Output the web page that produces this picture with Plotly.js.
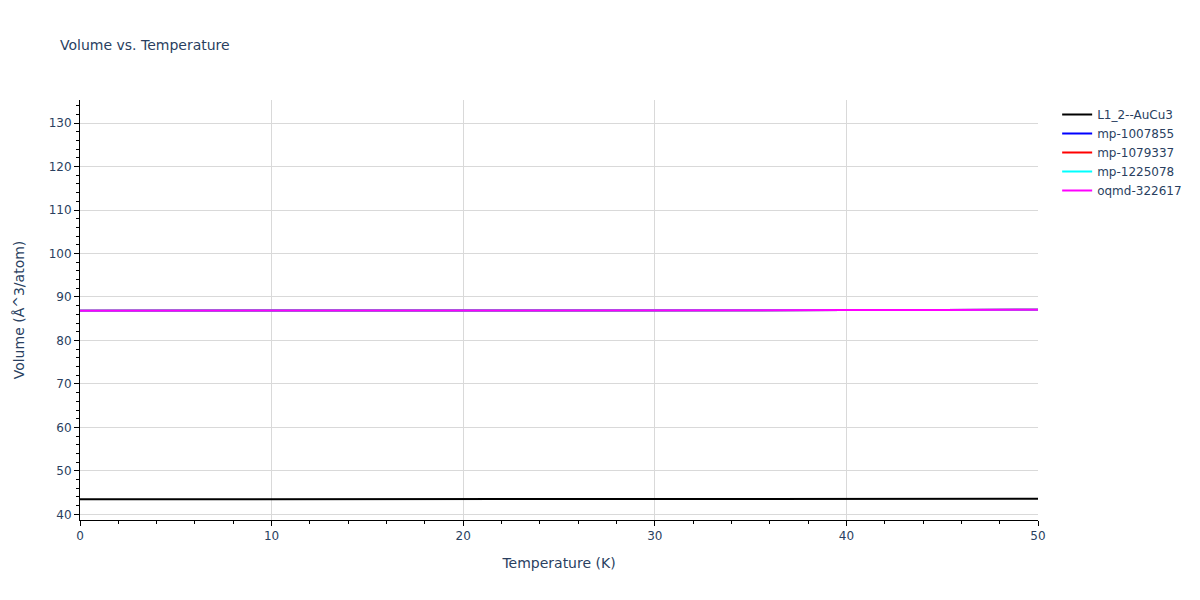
<!DOCTYPE html>
<html>
<head>
<meta charset="utf-8">
<script src="https://cdn.plot.ly/plotly-3.0.1.min.js"></script>
<style>html,body{margin:0;padding:0;background:#fff;}#chart{width:1200px;height:600px;}</style>
</head>
<body>
<div id="chart"></div>
<script>
// temperatures (K)
const temps = [0, 5, 10, 15, 20, 25, 30, 35, 40, 45, 50];

// volumes per series (Å^3/atom)
const volL12 = [43.45, 43.45, 43.46, 43.47, 43.48, 43.49, 43.51, 43.53, 43.55, 43.57, 43.59];
const volMp1007855 = [86.82, 86.82, 86.83, 86.85, 86.87, 86.89, 86.92, 86.95, 86.98, 87.01, 87.05];
const volMp1079337 = [86.82, 86.82, 86.83, 86.85, 86.87, 86.89, 86.92, 86.95, 86.98, 87.01, 87.05];
const volMp1225078 = [86.82, 86.82, 86.83, 86.85, 86.87, 86.89, 86.92, 86.95, 86.98, 87.01, 87.05];
const volOqmd = [86.82, 86.82, 86.83, 86.85, 86.87, 86.89, 86.92, 86.95, 86.98, 87.01, 87.05];

const seriesNames = ["L1_2--AuCu3", "mp-1007855", "mp-1079337", "mp-1225078", "oqmd-322617"];
const seriesColors = ["black", "blue", "red", "cyan", "magenta"];
const seriesValues = [volL12, volMp1007855, volMp1079337, volMp1225078, volOqmd];

const traces = seriesNames.map((name, i) => ({
  x: temps,
  y: seriesValues[i],
  name: name,
  type: "scatter",
  mode: "lines",
  line: { color: seriesColors[i], width: 2 },
}));

const minorTicks = { ticks: "outside", ticklen: 3, tickcolor: "black", dtick: 2, showgrid: false };

const axisStyle = {
  showline: true,
  linecolor: "black",
  linewidth: 1,
  ticks: "outside",
  tickcolor: "black",
  ticklen: 5,
  gridcolor: "#d9d9d9",
  zeroline: false,
  dtick: 10,
  minor: minorTicks,
};

const layout = {
  width: 1200,
  height: 600,
  paper_bgcolor: "white",
  plot_bgcolor: "white",
  font: { family: "Verdana, 'DejaVu Sans', sans-serif", size: 12, color: "#2a3f5f" },
  title: { text: "Volume vs. Temperature", x: 0.05, font: { size: 14 } },
  margin: { l: 80, r: 162, t: 100, b: 80 },
  xaxis: Object.assign({}, axisStyle, {
    title: { text: "Temperature (K)", font: { size: 14 }, standoff: 15 },
    range: [0, 50],
  }),
  yaxis: Object.assign({}, axisStyle, {
    title: { text: "Volume (Å^3/atom)", font: { size: 14 }, standoff: 20 },
    range: [38.7, 135.3],
  }),
  legend: { x: 1.02, y: 1, font: { size: 12 } },
};

Plotly.newPlot("chart", traces, layout, { displayModeBar: false });
</script>
</body>
</html>
